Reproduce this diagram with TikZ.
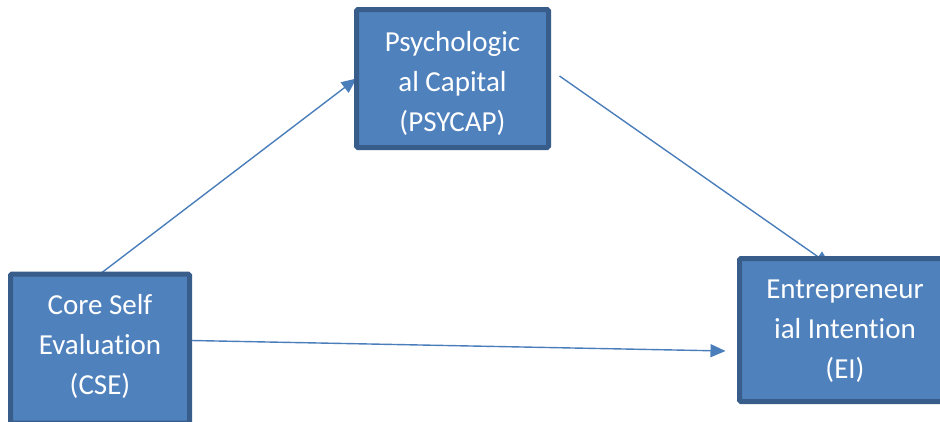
\documentclass[tikz,border=0pt]{standalone}
\usepackage{fontspec}
\setmainfont[Ligatures=NoCommon]{Carlito}
\usetikzlibrary{arrows.meta}
\definecolor{boxfill}{HTML}{4F81BD}
\definecolor{boxline}{HTML}{385D8A}
\definecolor{arrowc}{HTML}{4A7EBB}
\pgfdeclarelayer{bg}
\pgfsetlayers{bg,main}
\begin{document}
\begin{tikzpicture}[x=1pt,y=-1pt,
  box/.style={draw=boxline, fill=boxfill, line width=5pt, rounded corners=1.5pt,
    inner sep=0pt, outer sep=0pt},
  boxtext/.style={text=white, align=center, inner sep=0pt,
    font=\fontsize{29}{40}\selectfont},
  conn/.style={draw=arrowc, line width=1.4pt, -{Triangle[length=15pt,width=13pt]}}]
\useasboundingbox (0,0) rectangle (940,421);
\node[box, minimum width=192pt, minimum height=138pt] (psy) at (452.5,78.5) {};
\node[boxtext] (psyt) at ([yshift=-5]psy.center) {Psychologic\\al Capital\\(PSYCAP)};
\node[box, minimum width=179pt, minimum height=149pt] (cse) at (100,348.5) {};
\node[boxtext] (cset) at ([yshift=2]cse.center) {Core Self\\Evaluation\\(CSE)};
\node[box, minimum width=211pt, minimum height=143pt] (ei) at (845,330) {};
\node[boxtext] (eit) at ([yshift=-1]ei.center) {Entrepreneur\\ial Intention\\(EI)};
\begin{pgfonlayer}{bg}
\draw[conn] (cse.north) -- (psy.west);
\draw[conn] ([shift={(11,-2.5)}]psy.east) -- ([shift={(91,7)}]ei.north west);
\draw[conn] ([shift={(2,-8)}]cse.east) -- ([shift={(-14,21)}]ei.west);
\end{pgfonlayer}
\end{tikzpicture}
\end{document}
